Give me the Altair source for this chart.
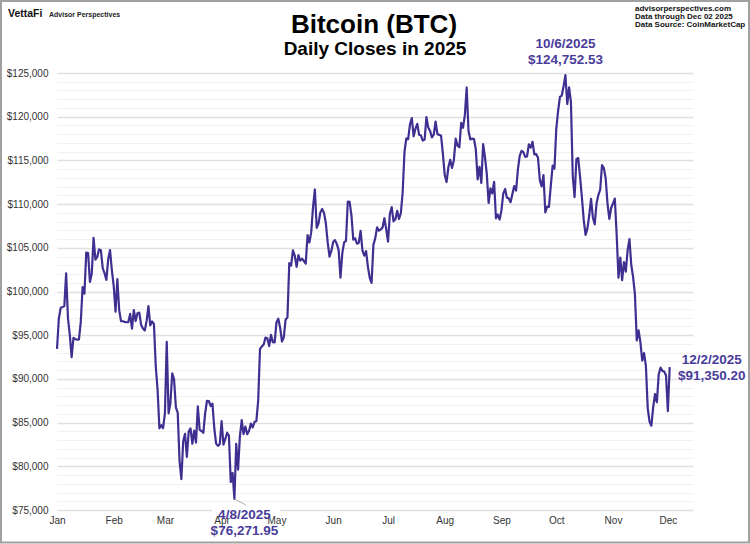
import altair as alt
import pandas as pd

# Daily closes 2025 (USD)
jan = [93429, 96886, 98107, 98236, 98315, 102078, 96922, 95043, 92484, 94701, 94566, 94488, 94517, 96534, 100505, 99756,
       104462, 104408, 101089, 102016, 106146, 103653, 103960, 104819, 104714, 102682, 102087, 101332, 103703, 104735, 102405]
feb = [100656, 97688, 101405, 97871, 96615, 96593, 96529, 96482, 96500, 97437, 95748, 97885, 96623, 97508, 97580, 96175,
       95773, 95539, 96635, 98333, 96126, 96577, 96273, 91418, 88736, 84347, 84704, 84373]
mar = [86031, 94248, 86065, 87222, 90623, 89961, 86742, 86154, 80601, 78532, 82862, 83722, 81066, 83969, 84343, 82580,
       84075, 82718, 86854, 84167, 84044, 83832, 86054, 87498, 87471, 86900, 87177, 84353, 82597, 82334, 82548]
apr = [85169, 82485, 83102, 83843, 83504, 78214, 79235, 76271.95, 82573, 79626, 83404, 85287, 83684, 84542, 83668, 84033,
       84895, 84450, 85063, 85174, 87518, 93441, 93700, 93944, 94720, 94646, 93755, 95044, 94207, 94172]
may = [96489, 96887, 95856, 94278, 94749, 96801, 97032, 103241, 102971, 104696, 104106, 102812, 104169, 103539, 103744,
       103489, 103191, 106446, 105606, 106791, 109678, 111673, 107287, 107791, 109035, 109440, 108995, 107802, 105641,
       103998, 104638]
jun = [105652, 105881, 105433, 104731, 101576, 104390, 105615, 105794, 110295, 110257, 108686, 105929, 106091, 105473,
       105555, 106951, 104696, 104107, 104623, 102824, 101559, 100988, 105334, 106083, 107341, 106960, 107088, 107327,
       108386, 107136]
jul = [105698, 108860, 109648, 108035, 108231, 109232, 108300, 108950, 111327, 115988, 117517, 117435, 119117, 119841,
       117759, 118631, 119177, 117924, 117840, 117266, 117380, 119954, 118756, 118368, 117635, 117948, 119448, 118000,
       117923, 117831, 115758]
aug = [113320, 112527, 114217, 115072, 114141, 115028, 117496, 116688, 116500, 119306, 118731, 120172, 123344, 118359,
       117398, 117492, 117453, 116252, 112831, 114275, 112419, 116874, 115374, 113458, 110124, 111802, 111222, 112545,
       108377, 108808, 108236]
sep = [109250, 111200, 111723, 110724, 110651, 110224, 111167, 112071, 111530, 113955, 115507, 116101, 115950, 115407,
       115444, 116843, 116468, 117137, 115688, 115721, 115306, 112749, 112014, 113328, 109049, 109712, 109681, 112122,
       114400, 114056]
oct_ = [118648, 120681, 122266, 122425, 123513, 124752.53, 121451, 123354, 121705, 113214, 110807, 115169, 115271, 113118,
        110783, 108186, 106467, 107198, 108666, 110588, 108476, 107688, 110069, 111033, 111641, 114472, 114119, 112956,
        110055, 108305, 109556]
nov = [110064, 110639, 106547, 101590, 103892, 101301, 103372, 102282, 104719, 105997, 103031, 101654, 99674, 94397,
       95549, 94177, 92093, 92948, 91465, 86631, 85090, 84648, 86805, 88270, 87341, 90518, 91285, 90919, 90851, 90394]
dec = [86321, 91350.20]

ann_dates = ["2025-10-06T00:00:00Z", "2025-04-08T00:00:00Z", "2025-12-02T00:00:00Z"]
ann_values = [124752.53, 76271.95, 91350.20]
ann_labels = ["10/6/2025\n$124,752.53", "4/8/2025\n$76,271.95", "12/2/2025\n$91,350.20"]

title_text = "Bitcoin (BTC)"
subtitle_text = "Daily Closes in 2025"
credit_text = "advisorperspectives.com\nData through Dec 02 2025\nData Source: CoinMarketCap"

closes = jan + feb + mar + apr + may + jun + jul + aug + sep + oct_ + nov + dec
dates = pd.date_range("2025-01-01", periods=len(closes), freq="D").strftime("%Y-%m-%dT00:00:00Z")
df = pd.DataFrame({"date": list(dates), "close": closes})
ann = pd.DataFrame({"date": ann_dates, "close": ann_values, "label": ann_labels})

FONT = "Liberation Sans, Arial, Helvetica, sans-serif"
LINE = "#3d3090"
TXT = "#4a3c9a"

xscale = alt.Scale(type="utc",
                   domain=[alt.DateTime(year=2025, month=1, date=1, utc=True),
                           alt.DateTime(year=2025, month=12, date=14, hours=18, utc=True)])
yscale = alt.Scale(domain=[75000, 125000], nice=False, zero=False)

xaxis = alt.Axis(values=[alt.DateTime(year=2025, month=m, date=1, utc=True) for m in range(1, 13)],
                 format="%b", grid=False, ticks=False, domain=False, labelPadding=5,
                 labelFontSize=10, labelColor="#333333", labelFont=FONT, labelFlush=False,
                 labelOverlap=False, tickCount=50)
yaxis = alt.Axis(values=list(range(75000, 125001, 1000)), tickCount=200,
                 labelExpr="datum.value % 5000 === 0 ? '$' + format(datum.value, ',') : ''",
                 ticks=False, domain=False, labelPadding=9, labelFontSize=10, labelColor="#333333",
                 labelFont=FONT, labelFlush=False, labelOverlap=False,
                 gridColor={"condition": {"test": "datum.value % 5000 === 0", "value": "#e0e0e0"}, "value": "#f1f1f1"},
                 gridWidth={"condition": {"test": "datum.value % 5000 === 0", "value": 1.5}, "value": 1})

line = alt.Chart(df).mark_line(color=LINE, strokeWidth=2.2, strokeJoin="round").encode(
    x=alt.X("date:T", scale=xscale, axis=xaxis, title=None),
    y=alt.Y("close:Q", scale=yscale, axis=yaxis, title=None),
)

low = ann.iloc[[1]]
leader = alt.Chart(low).mark_rule(color="#b0b0b0", strokeWidth=1).encode(
    x=alt.X("date:T", title=None), y=alt.Y("close:Q", title=None),
    x2=alt.value(189), y2=alt.value(432)
)

dummy = pd.DataFrame({"a": [0]})
whitebox = alt.Chart(dummy).mark_rect(fill="white").encode(
    x=alt.value(155), x2=alt.value(223), y=alt.value(433), y2=alt.value(440)
)

def ann_layer(row, dx, dy):
    return alt.Chart(ann.iloc[[row]]).mark_text(
        align="center", baseline="middle", dx=dx, dy=dy, lineBreak="\n", lineHeight=16,
        fontSize=13.5, fontWeight="bold", font=FONT, color=TXT
    ).encode(x=alt.X("date:T", title=None), y=alt.Y("close:Q", title=None), text="label:N")

peak_txt = ann_layer(0, 0, -31.5)
low_txt = ann_layer(1, 10, 16.5)
end_txt = ann_layer(2, 42, -7.5)

title = alt.Chart(dummy).mark_text(align="center", baseline="alphabetic", fontSize=26, fontWeight="bold",
                                   font=FONT, color="#000000", text=title_text).encode(
    x=alt.value(317), y=alt.value(-40))
subtitle = alt.Chart(dummy).mark_text(align="center", baseline="alphabetic", fontSize=19, fontWeight="bold",
                                      font=FONT, color="#000000", text=subtitle_text).encode(
    x=alt.value(318), y=alt.value(-18))

vetta = alt.Chart(dummy).mark_text(align="left", baseline="middle", fontSize=10.5, fontWeight="bold",
                                   font=FONT, color="#111111", text="VettaFi").encode(
    x=alt.value(-49), y=alt.value(-59))
ap = alt.Chart(dummy).mark_text(align="left", baseline="middle", fontSize=7, fontWeight="bold",
                                font=FONT, color="#222222", text="Advisor Perspectives").encode(
    x=alt.value(-8), y=alt.value(-58.5))
credits = alt.Chart(dummy).mark_text(
    align="left", baseline="middle", fontSize=8, fontWeight="bold", font=FONT, color="#111111",
    lineBreak="\n", lineHeight=8, text=credit_text).encode(
    x=alt.value(578), y=alt.value(-64.5))
border = alt.Chart(dummy).mark_rect(fill=None, stroke="#a0a0a0", strokeWidth=2).encode(
    x=alt.value(-56), x2=alt.value(692), y=alt.value(-72), y2=alt.value(469.5))

chart = alt.layer(line, leader, whitebox, peak_txt, low_txt, end_txt, title, subtitle,
                  vetta, ap, credits, border).properties(
    width=636, height=437,
    padding={"left": 57, "top": 73, "right": 57, "bottom": 34},
    autosize=alt.AutoSizeParams(type="none"),
).configure(background="white").configure_view(stroke=None)

chart.save("out.html", embed_options={"renderer": "svg", "actions": False})
